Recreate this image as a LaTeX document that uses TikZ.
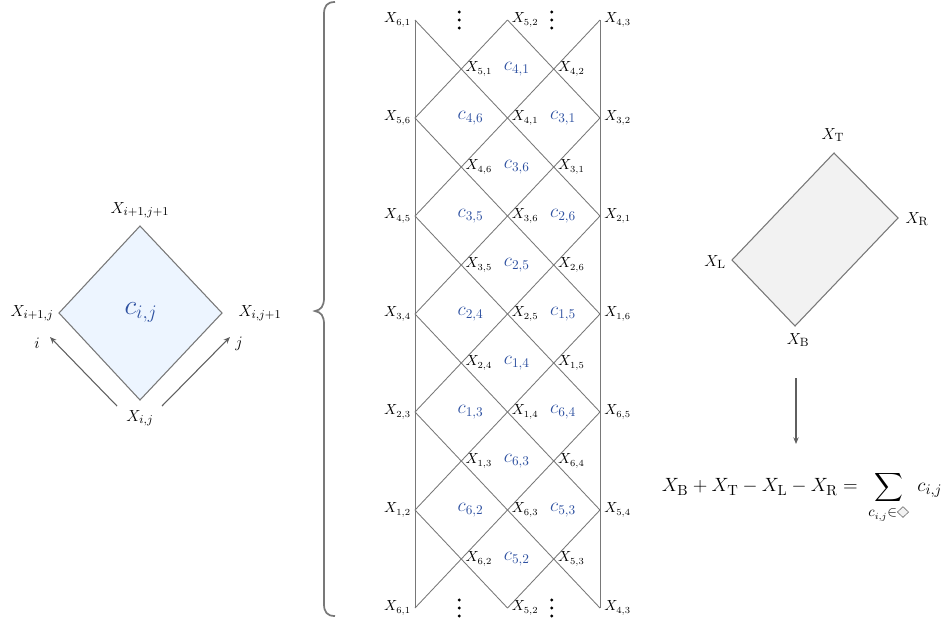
\documentclass[tikz,border=0pt]{standalone}
\usepackage{amsmath,amssymb}
\usetikzlibrary{arrows.meta}
\definecolor{cblue}{RGB}{45,80,160}
\definecolor{lgray}{RGB}{120,120,120}
\definecolor{agray}{RGB}{95,95,95}
\definecolor{dfill}{RGB}{237,245,255}
\definecolor{gfill}{RGB}{242,242,242}
\begin{document}
\begin{tikzpicture}[x=0.75pt,y=-0.75pt,
  gridline/.style={draw=lgray,line width=0.65pt},
  xr/.style={anchor=west,inner sep=1pt,xshift=2pt,font=\fontsize{10.5}{12}\selectfont},
  xl/.style={anchor=east,inner sep=1pt,xshift=-2pt,font=\fontsize{10.5}{12}\selectfont},
  clab/.style={text=cblue,inner sep=0pt,xshift=7pt,font=\fontsize{14.5}{16}\selectfont},
  dlab/.style={inner sep=0pt,font=\fontsize{13}{15}\selectfont},
  rlab/.style={inner sep=0pt,font=\fontsize{12.5}{14}\selectfont},
  dotc/.style={fill=black,circle,inner sep=0pt,minimum size=2.4pt},
  arr/.style={draw=agray,line width=0.8pt,-{Stealth[length=5pt,width=4pt]}}]
\useasboundingbox (0,0) rectangle (949,626);

% ---------- left diamond ----------
\coordinate (LT) at (140,226);
\coordinate (LL) at (59,313);
\coordinate (LR) at (222,313);
\coordinate (LB) at (140,400);
\draw[draw=lgray,fill=dfill,line width=0.8pt] (LT) -- (LR) -- (LB) -- (LL) -- cycle;
\node[text=cblue,inner sep=0pt,font=\fontsize{20}{22}\selectfont] (cij) at (141,312) {$c_{i,j}$};
\node[dlab] (xtop) at (140,210) {$X_{i+1,j+1}$};
\node[dlab] (xleft) at (32,313) {$X_{i+1,j}$};
\node[dlab] (xright) at (260,313) {$X_{i,j+1}$};
\node[dlab] (xbot) at (140,418) {$X_{i,j}$};
\coordinate (ai0) at (117,406);
\coordinate (ai1) at (50,337);
\coordinate (aj0) at (162,406);
\coordinate (aj1) at (230,337);
\draw[arr] (ai0) -- (ai1);
\draw[arr] (aj0) -- (aj1);
\node[dlab] (li) at (37,343) {$i$};
\node[dlab] (lj) at (239,344) {$j$};

% ---------- brace ----------
\draw[draw=lgray,line width=1.3pt] (335,2) .. controls (327,2) and (324,6) .. (324,14) -- (324,298)
  .. controls (324,306) and (321,310) .. (315,311) .. controls (321,312) and (324,316) .. (324,324)
  -- (324,604) .. controls (324,612) and (327,616) .. (335,616);

% ---------- strip ----------
\foreach \a in {0,...,4}{
  \foreach \b in {0,...,12}{
    \coordinate (v\a-\b) at ({415+46.25*\a},{20+49*\b});
  }
}
\draw[gridline] (v0-0) -- (v0-12);
\draw[gridline] (v4-0) -- (v4-12);
\foreach \s/\e in {2-0/4-2,0-0/4-4,0-2/4-6,0-4/4-8,0-6/4-10,0-8/4-12,0-10/2-12,
                   0-2/2-0,0-4/4-0,0-6/4-2,0-8/4-4,0-10/4-6,0-12/4-8,2-12/4-10}{
  \draw[gridline] (v\s) -- (v\e);
}
% vertex labels
\node[xl] (n61t) at (v0-0) {$X_{6,1}$};
\node[xr] (n52t) at (v2-0) {$X_{5,2}$};
\node[xr] (n43t) at (v4-0) {$X_{4,3}$};
\node[xr] (n51) at (v1-1) {$X_{5,1}$};
\node[xr] (n42) at (v3-1) {$X_{4,2}$};
\node[xl] (n56) at (v0-2) {$X_{5,6}$};
\node[xr] (n41) at (v2-2) {$X_{4,1}$};
\node[xr] (n32) at (v4-2) {$X_{3,2}$};
\node[xr] (n46) at (v1-3) {$X_{4,6}$};
\node[xr] (n31) at (v3-3) {$X_{3,1}$};
\node[xl] (n45) at (v0-4) {$X_{4,5}$};
\node[xr] (n36) at (v2-4) {$X_{3,6}$};
\node[xr] (n21) at (v4-4) {$X_{2,1}$};
\node[xr] (n35) at (v1-5) {$X_{3,5}$};
\node[xr] (n26) at (v3-5) {$X_{2,6}$};
\node[xl] (n34) at (v0-6) {$X_{3,4}$};
\node[xr] (n25) at (v2-6) {$X_{2,5}$};
\node[xr] (n16) at (v4-6) {$X_{1,6}$};
\node[xr] (n24) at (v1-7) {$X_{2,4}$};
\node[xr] (n15) at (v3-7) {$X_{1,5}$};
\node[xl] (n23) at (v0-8) {$X_{2,3}$};
\node[xr] (n14) at (v2-8) {$X_{1,4}$};
\node[xr] (n65) at (v4-8) {$X_{6,5}$};
\node[xr] (n13) at (v1-9) {$X_{1,3}$};
\node[xr] (n64) at (v3-9) {$X_{6,4}$};
\node[xl] (n12) at (v0-10) {$X_{1,2}$};
\node[xr] (n63) at (v2-10) {$X_{6,3}$};
\node[xr] (n54) at (v4-10) {$X_{5,4}$};
\node[xr] (n62) at (v1-11) {$X_{6,2}$};
\node[xr] (n53) at (v3-11) {$X_{5,3}$};
\node[xl] (n61b) at (v0-12) {$X_{6,1}$};
\node[xr] (n52b) at (v2-12) {$X_{5,2}$};
\node[xr] (n43b) at (v4-12) {$X_{4,3}$};
% dots
\foreach \p in {1-0,3-0,1-12,3-12}{
  \foreach \dy in {-8,0,8}{
    \node[dotc] (dot\p\dy) at ([xshift=-1.5pt,yshift=-0.75*\dy pt]v\p) {};
  }
}
% c labels
\node[clab] (c41) at (v2-1) {$c_{4,1}$};
\node[clab] (c46) at (v1-2) {$c_{4,6}$};
\node[clab] (c31) at (v3-2) {$c_{3,1}$};
\node[clab] (c36) at (v2-3) {$c_{3,6}$};
\node[clab] (c35) at (v1-4) {$c_{3,5}$};
\node[clab] (c26) at (v3-4) {$c_{2,6}$};
\node[clab] (c25) at (v2-5) {$c_{2,5}$};
\node[clab] (c24) at (v1-6) {$c_{2,4}$};
\node[clab] (c15) at (v3-6) {$c_{1,5}$};
\node[clab] (c14) at (v2-7) {$c_{1,4}$};
\node[clab] (c13) at (v1-8) {$c_{1,3}$};
\node[clab] (c64) at (v3-8) {$c_{6,4}$};
\node[clab] (c63) at (v2-9) {$c_{6,3}$};
\node[clab] (c62) at (v1-10) {$c_{6,2}$};
\node[clab] (c53) at (v3-10) {$c_{5,3}$};
\node[clab] (c52) at (v2-11) {$c_{5,2}$};

% ---------- right diamond ----------
\coordinate (RT) at (834,153);
\coordinate (RR) at (898,218);
\coordinate (RB) at (795,326);
\coordinate (RL) at (732,260);
\draw[draw=lgray,fill=gfill,line width=0.8pt] (RT) -- (RR) -- (RB) -- (RL) -- cycle;
\node[rlab] (xT) at (833,135) {$X_{\mathrm{T}}$};
\node[rlab] (xR) at (917,219) {$X_{\mathrm{R}}$};
\node[rlab] (xL) at (715,262) {$X_{\mathrm{L}}$};
\node[rlab] (xB) at (798,340) {$X_{\mathrm{B}}$};
\coordinate (ar0) at (796,378);
\node[inner sep=0pt,font=\fontsize{15}{18}\selectfont] (formula) at (802,497)
 {$X_{\mathrm{B}}+X_{\mathrm{T}}-X_{\mathrm{L}}-X_{\mathrm{R}}=\;\displaystyle\sum_{c_{i,j}\in\tikz[x=1pt,y=1pt,baseline={(0,-0.5pt)}]\draw[draw=lgray,fill=gfill,line width=0.5pt] (0,3.2)--(4.2,7.2)--(8.4,3.2)--(4.2,-0.8)--cycle;}\; c_{i,j}$};
\coordinate (ar1) at (796,444);
\draw[arr] (ar0) -- (ar1);
\end{tikzpicture}
\end{document}
